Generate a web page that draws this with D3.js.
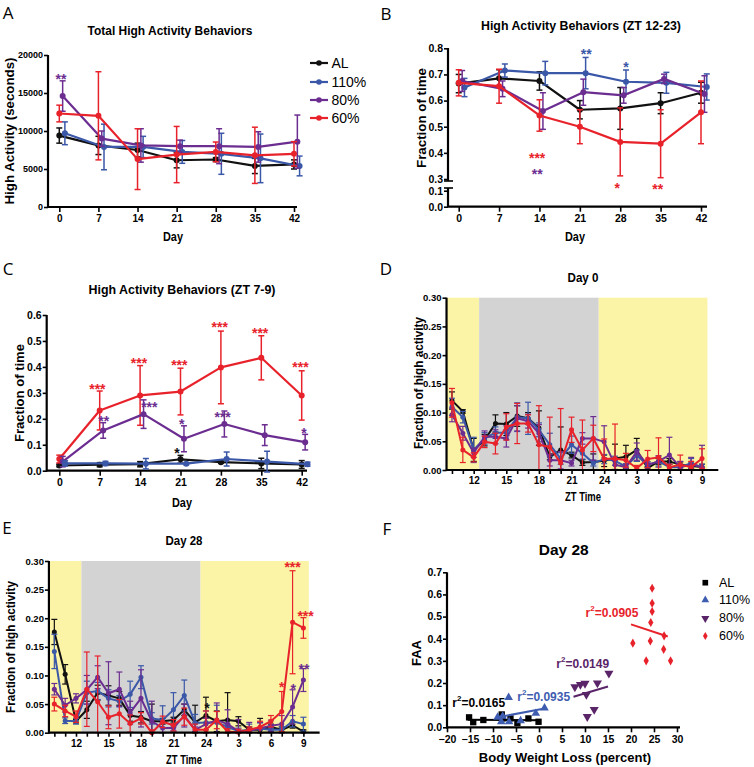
<!DOCTYPE html>
<html><head><meta charset="utf-8">
<script src="https://cdn.jsdelivr.net/npm/d3@7"></script>
<style>body{margin:0;background:#fff}svg{display:block}</style></head>
<body><svg id="c" width="754" height="767"></svg>
<script>
// ---------- DATA ----------
const groups = ["AL", "110%", "80%", "60%"];
const days = [0, 7, 14, 21, 28, 35, 42];

// Panel A: Total high activity (seconds)
const aAL  = [9400, 8100, 7500, 6150, 6250, 5400, 5600];
const a110 = [9700, 7900, 7900, 7250, 7000, 6400, 5400];
const a80  = [14600, 9000, 8100, 8000, 8000, 7900, 8600];
const a60  = [12300, 12000, 6300, 6900, 7250, 6800, 7000];
const aALerr  = [1000, 1200, 900, 1000, 250, 1000, 600];
const a110err = [1500, 3000, 1400, 1500, 2700, 3200, 1300];
const a80err  = [2000, 1000, 2200, 800, 2300, 2000, 3500];
const a60err  = [1100, 5800, 4000, 3700, 1300, 3700, 1600];
const aTicks = [0, 5000, 10000, 15000, 20000];

// Panel B: fraction of time ZT 12-23
const bAL  = [0.665, 0.685, 0.675, 0.565, 0.570, 0.590, 0.630];
const b110 = [0.650, 0.715, 0.705, 0.705, 0.672, 0.668, 0.652];
const b80  = [0.675, 0.645, 0.560, 0.632, 0.620, 0.683, 0.625];
const b60  = [0.668, 0.655, 0.543, 0.500, 0.442, 0.435, 0.555];
const bALerr  = [0.035, 0.033, 0.035, 0.035, 0.080, 0.040, 0.040];
const b110err = [0.035, 0.025, 0.045, 0.060, 0.045, 0.040, 0.050];
const b80err  = [0.040, 0.030, 0.070, 0.050, 0.030, 0.018, 0.070];
const b60err  = [0.050, 0.065, 0.060, 0.065, 0.130, 0.130, 0.120];
const bTicksUpper = [0.3, 0.4, 0.5, 0.6, 0.7, 0.8];
const bTicksLower = [0.0, 0.1];

// Panel C: fraction of time ZT 7-9
const cAL  = [0.020, 0.023, 0.025, 0.044, 0.033, 0.028, 0.024];
const c110 = [0.028, 0.028, 0.027, 0.027, 0.045, 0.035, 0.025];
const c80  = [0.035, 0.155, 0.218, 0.123, 0.180, 0.137, 0.110];
const c60  = [0.045, 0.232, 0.290, 0.305, 0.398, 0.435, 0.290];
const cALerr  = [0.005, 0.008, 0.010, 0.015, 0.004, 0.020, 0.015];
const c110err = [0.010, 0.008, 0.020, 0.004, 0.027, 0.040, 0.008];
const c80err  = [0.020, 0.030, 0.055, 0.050, 0.050, 0.040, 0.030];
const c60err  = [0.015, 0.075, 0.115, 0.090, 0.140, 0.085, 0.095];
const cTicks = [0, 0.1, 0.2, 0.3, 0.4, 0.5, 0.6];

// Panels D/E: hourly profile (ZT hours, 24 = next-day 0)
const hours = [10, 11, 12, 13, 14, 15, 16, 17, 18, 19, 20, 21, 22, 23, 24, 25, 26, 27, 28, 29, 30, 31, 32, 33];
const hourTicks = [12, 15, 18, 21, 24, 27, 30, 33];
const hourTickLabels = ["12", "15", "18", "21", "24", "3", "6", "9"];
const phases = [[9.5, 12.5, "light"], [12.5, 23.5, "dark"], [23.5, 33.5, "light"]];
const fracTicks = [0, 0.05, 0.10, 0.15, 0.20, 0.25, 0.30];

const dAL  = [0.121,0.102,0.035,0.052,0.081,0.080,0.094,0.090,0.073,0.023,0.035,0.026,0.013,0.014,0.016,0.020,0.023,0.035,0.003,0.015,0.015,0.009,0.007,0.005];
const d110 = [0.110,0.092,0.035,0.055,0.065,0.065,0.092,0.090,0.070,0.044,0.020,0.044,0.029,0.012,0.019,0.016,0.006,0.025,0.009,0.015,0.005,0.005,0.012,0.005];
const d80  = [0.096,0.064,0.030,0.058,0.058,0.055,0.090,0.085,0.064,0.017,0.017,0.012,0.055,0.055,0.049,0.009,0.005,0.032,0.009,0.015,0.026,0.005,0.009,0.005];
const d60  = [0.117,0.035,0.022,0.049,0.046,0.075,0.081,0.081,0.044,0.040,0.012,0.070,0.035,0.055,0.019,0.020,0.017,0.003,0.019,0.022,0.005,0.009,0.005,0.020];
const dALerr  = [0.015,0.003,0.020,0.010,0.015,0.020,0.018,0.010,0.030,0.005,0.040,0.005,0.005,0.014,0.010,0.025,0.020,0.020,0.003,0.005,0.005,0.005,0.005,0.005];
const d110err = [0.015,0.010,0.022,0.010,0.010,0.012,0.025,0.028,0.012,0.020,0.010,0.015,0.010,0.005,0.008,0.008,0.005,0.010,0.005,0.008,0.005,0.005,0.008,0.005];
const d80err  = [0.012,0.012,0.008,0.010,0.012,0.015,0.022,0.012,0.015,0.010,0.015,0.005,0.010,0.038,0.028,0.008,0.005,0.015,0.005,0.010,0.031,0.010,0.013,0.038];
const d60err  = [0.025,0.022,0.008,0.010,0.018,0.023,0.035,0.015,0.068,0.052,0.095,0.022,0.052,0.023,0.035,0.060,0.012,0.005,0.015,0.034,0.005,0.017,0.010,0.017];

const eAL  = [0.176,0.102,0.020,0.040,0.070,0.065,0.060,0.030,0.027,0.020,0.020,0.022,0.040,0.018,0.030,0.020,0.022,0.020,0.005,0.005,0.010,0.005,0.013,0.002];
const e110 = [0.142,0.021,0.020,0.070,0.073,0.060,0.055,0.067,0.097,0.025,0.022,0.040,0.065,0.017,0.018,0.018,0.010,0.003,0.005,0.007,0.005,0.005,0.020,0.015];
const e80  = [0.076,0.048,0.060,0.075,0.097,0.069,0.076,0.035,0.060,0.020,0.008,0.008,0.030,0.005,0.015,0.022,0.015,0.003,0.003,0.008,0.012,0.015,0.045,0.092];
const e60  = [0.050,0.038,0.028,0.076,0.054,0.027,0.033,0.016,0.025,0.000,0.019,0.013,0.028,0.005,0.005,0.022,0.002,0.001,0.005,0.010,0.020,0.037,0.193,0.183];
const eALerr  = [0.022,0.017,0.003,0.015,0.013,0.017,0.012,0.010,0.010,0.030,0.005,0.005,0.010,0.030,0.032,0.018,0.048,0.008,0.005,0.020,0.005,0.005,0.005,0.003];
const e110err = [0.030,0.005,0.005,0.020,0.015,0.015,0.010,0.023,0.020,0.010,0.025,0.030,0.027,0.015,0.020,0.030,0.005,0.005,0.010,0.010,0.005,0.005,0.010,0.012];
const e80err  = [0.010,0.012,0.008,0.025,0.020,0.055,0.030,0.020,0.050,0.035,0.010,0.005,0.020,0.005,0.010,0.030,0.025,0.020,0.015,0.010,0.010,0.015,0.030,0.020];
const e60err  = [0.012,0.010,0.010,0.065,0.080,0.020,0.025,0.015,0.010,0.005,0.010,0.010,0.015,0.010,0.033,0.015,0.005,0.005,0.005,0.010,0.010,0.035,0.090,0.018];

// Panel F: FAA vs body weight loss
const fALx  = [-15.2, -14.3, -12.1, -8.1, -7.9, -6.2, -4.7, -2.3, -0.1];
const fALy  = [0.045, 0.023, 0.033, 0.058, 0.040, 0.040, 0.020, 0.040, 0.025];
const f110x = [-9.0, -8.2, -7.9, -6.6, -6.5, -4.0, -0.7, 1.2];
const f110y = [0.045, 0.025, 0.050, 0.135, 0.025, 0.030, 0.063, 0.087];
const f80x  = [7.8, 9.0, 10.0, 10.3, 12.7, 15.2, 10.5, 12.0];
const f80y  = [0.182, 0.193, 0.198, 0.148, 0.200, 0.244, 0.048, 0.080];
const f60x  = [20.4, 23.3, 24.2, 24.3, 24.6, 24.6, 24.6, 27.2, 27.1, 28.6];
const f60y  = [0.380, 0.300, 0.390, 0.473, 0.523, 0.560, 0.628, 0.413, 0.352, 0.300];
const fFitX = [[-15.5, 0], [-9, 1.2], [7.5, 15], [20, 28]];
const fFitY = [[0.034, 0.032], [0.045, 0.085], [0.138, 0.184], [0.465, 0.410]];
const fR2   = ["0.0165", "0.0935", "0.0149", "0.0905"];
const fXTicks = [-20, -15, -10, -5, 0, 5, 10, 15, 20, 25, 30];
const fYTicks = [0, 0.1, 0.2, 0.3, 0.4, 0.5, 0.6, 0.7];

// significance marks: [x (day / hour), y value, text, group index]
const bStars = [[22.1, 0.795, "**", 1], [29.0, 0.745, "*", 1], [13.6, 0.397, "***", 3], [13.6, 0.336, "**", 2], [27.5, 0.280, "*", 3], [34.5, 0.277, "**", 3]];
const aStars = [[0.3, 17400, "**", 2]];
const cStars = [[6.6, 0.330, "***", 3], [13.8, 0.430, "***", 3], [20.8, 0.423, "***", 3], [27.8, 0.570, "***", 3], [34.8, 0.545, "***", 3], [41.8, 0.414, "***", 3],
                [7.7, 0.206, "**", 2], [15.6, 0.262, "***", 2], [21.2, 0.195, "*", 2], [28.3, 0.221, "***", 2], [42.4, 0.160, "*", 2], [20.4, 0.082, "*", 0]];
const eStars = [[31.0, 0.087, "*", 3], [32.05, 0.083, "*", 2], [32.0, 0.296, "***", 3], [33.2, 0.211, "***", 3], [33.05, 0.118, "**", 2], [24.1, 0.051, "*", 0]];

// ---------- STYLE ----------
const colors = ["#111111", "#3a57a8", "#6c2d91", "#e8222b"];
const fColors = ["#000000", "#3f5db0", "#5a2468", "#e8222b"];
const nudge = [0, 1.0, 0.6, 0];
const FONT = "'Liberation Sans', Arial, sans-serif";
const svg = d3.select("#c");

function txt(x, y, s, o = {}) {
  const t = svg.append("text").attr("x", x).attr("y", y).text(s)
    .attr("font-family", o.family || FONT).attr("font-size", o.size || 12)
    .attr("font-weight", o.weight || "bold").attr("text-anchor", o.anchor || "middle")
    .attr("dominant-baseline", o.base || "central").attr("fill", o.fill || "#000");
  if (o.len) t.attr("textLength", o.len).attr("lengthAdjust", "spacingAndGlyphs");
  if (o.rot) t.attr("transform", `rotate(-90,${x},${y})`);
  return t;
}
function styleAxis(g, fs) {
  g.selectAll("path.domain").remove();
  g.selectAll("line").attr("stroke", "#000").attr("stroke-width", 1.6);
  g.selectAll("text").attr("font-family", FONT).attr("font-weight", "bold")
    .attr("font-size", fs || 10).attr("fill", "#000");
}
function leftAxis(scale, x, ticks, fmt, y0, y1, fs) {
  const g = svg.append("g").attr("transform", `translate(${x},0)`)
    .call(d3.axisLeft(scale).tickValues(ticks).tickFormat(fmt).tickSize(4).tickPadding(1));
  styleAxis(g, fs);
  svg.append("line").attr("x1", x).attr("x2", x).attr("y1", y0).attr("y2", y1)
    .attr("stroke", "#000").attr("stroke-width", 2.2);
}
function bottomAxis(scale, y, ticks, fmt, x0, x1, fs, tl) {
  const g = svg.append("g").attr("transform", `translate(0,${y})`)
    .call(d3.axisBottom(scale).tickValues(ticks).tickFormat(fmt).tickSize(tl || 5).tickPadding(3));
  styleAxis(g, fs);
  svg.append("line").attr("x1", x0).attr("x2", x1).attr("y1", y).attr("y2", y)
    .attr("stroke", "#000").attr("stroke-width", 2.2);
  return g;
}
function series(xs, ys, xv, vals, errs, i, o) {
  const col = colors[i];
  const pts = xv.map((d, j) => ({
    x: xs(d + (o.nudge ? nudge[i] : 0)), y: ys(vals[j]),
    hi: ys(vals[j] + errs[j]), lo: ys(Math.max(o.floor != null ? o.floor : -1e9, vals[j] - errs[j]))
  }));
  const g = svg.append("g");
  const cap = o.cap || 3;
  pts.forEach(p => {
    g.append("line").attr("x1", p.x).attr("x2", p.x).attr("y1", p.lo).attr("y2", p.hi).attr("stroke", col).attr("stroke-width", o.ew || 1.5);
    [p.lo, p.hi].forEach(yy => g.append("line").attr("x1", p.x - cap).attr("x2", p.x + cap).attr("y1", yy).attr("y2", yy).attr("stroke", col).attr("stroke-width", o.ew || 1.5));
  });
  g.append("path").attr("d", d3.line().x(p => p.x).y(p => p.y)(pts))
    .attr("fill", "none").attr("stroke", col).attr("stroke-width", o.lw || 2.2).attr("stroke-linejoin", "round");
  g.selectAll("circle").data(pts).join("circle").attr("cx", p => p.x).attr("cy", p => p.y)
    .attr("r", o.r || 3).attr("fill", col);
}
function stars(list, xs, ys) {
  list.forEach(s => txt(xs(s[0]), ys(s[1]) + 4, s[2], { size: 14, fill: colors[s[3]], weight: "bold" }));
}
const letter = (x, y, s) => txt(x, y, s, { family: "'Open Sans', sans-serif", weight: "normal", size: 17 });

// ---------- PANEL A ----------
{
  const xs = d3.scaleLinear([0, 42], [59.3, 294]);
  const ys = d3.scaleLinear([0, 20000], [207, 55]);
  letter(8, 12, "A");
  txt(170, 30, "Total High Activity Behaviors", { size: 13, len: 165 });
  leftAxis(ys, 48, aTicks, d3.format("d"), 55, 208, 9);
  bottomAxis(xs, 207, days, d3.format("d"), 47, 297, 10);
  txt(9.5, 131, "High Activity (seconds)", { size: 12.5, rot: true, len: 147 });
  txt(173, 237, "Day", { size: 12.5, len: 20 });
  const vals = [aAL, a110, a80, a60], errs = [aALerr, a110err, a80err, a60err];
  vals.forEach((v, i) => series(xs, ys, days, v, errs[i], i, { nudge: true }));
  stars(aStars, xs, ys);
  // legend
  groups.forEach((gname, i) => {
    const y = [63, 82, 100, 118][i];
    svg.append("line").attr("x1", 310).attr("x2", 328).attr("y1", y).attr("y2", y).attr("stroke", colors[i]).attr("stroke-width", 2.2);
    svg.append("circle").attr("cx", 319).attr("cy", y).attr("r", 2.8).attr("fill", colors[i]);
    txt(331.5, y, gname, { size: 14, weight: "normal", anchor: "start" });
  });
}

// ---------- PANEL B ----------
{
  const xs = d3.scaleLinear([0, 42], [458.7, 701]);
  const ysU = d3.scaleLinear([0.3, 0.8], [179, 48.3]);
  const ysL = d3.scaleLinear([0, 0.1], [206.7, 190.7]);
  letter(386, 13, "B");
  txt(581, 25, "High Activity Behaviors (ZT 12-23)", { size: 13, len: 200 });
  leftAxis(ysU, 448, bTicksUpper, d3.format(".1f"), 48, 181, 10.5);
  leftAxis(ysL, 448, bTicksLower, d3.format(".1f"), 188, 207, 10.5);
  [181, 188].forEach(y => svg.append("line").attr("x1", 444).attr("x2", 453).attr("y1", y).attr("y2", y).attr("stroke", "#000").attr("stroke-width", 1.6));
  bottomAxis(xs, 206.7, days, d3.format("d"), 447, 707, 10.5);
  txt(422, 118, "Fraction of time", { size: 12.5, rot: true, len: 100 });
  txt(575, 237, "Day", { size: 12.5, len: 20 });
  const vals = [bAL, b110, b80, b60], errs = [bALerr, b110err, b80err, b60err];
  vals.forEach((v, i) => series(xs, ysU, days, v, errs[i], i, { nudge: true }));
  stars(bStars, xs, ysU);
}

// ---------- PANEL C ----------
{
  const xs = d3.scaleLinear([0, 42], [59.3, 301.7]);
  const ys = d3.scaleLinear([0, 0.6], [470.7, 315]);
  letter(8, 268, "C");
  txt(182, 289, "High Activity Behaviors (ZT 7-9)", { size: 13, len: 187 });
  leftAxis(ys, 46.7, cTicks, d3.format(".1f"), 315, 471.5, 10.5);
  bottomAxis(xs, 470.7, days, d3.format("d"), 46, 307, 10.5);
  txt(20, 393, "Fraction of time", { size: 12.5, rot: true, len: 98 });
  txt(182, 503, "Day", { size: 12.5, len: 20 });
  const vals = [cAL, c110, c80, c60], errs = [cALerr, c110err, c80err, c60err];
  const order = [0, 3, 2, 1];
  order.forEach(i => series(xs, ys, days, vals[i], errs[i], i, { nudge: true }));
  stars(cStars, xs, ys);
}

// ---------- HOURLY PANELS ----------
function hourPanel(cfg) {
  const xs = d3.scaleLinear([12, 33], cfg.xr);
  const ys = d3.scaleLinear([0, 0.3], cfg.yr);
  phases.forEach(p => svg.append("rect").attr("x", xs(p[0])).attr("width", xs(p[1]) - xs(p[0]))
    .attr("y", cfg.yr[1]).attr("height", cfg.yr[0] - cfg.yr[1])
    .attr("fill", p[2] === "light" ? "#fbf3a6" : "#d3d3d3"));
  letter(cfg.lx, cfg.ly, cfg.letter);
  txt(cfg.tx, cfg.ty, cfg.title, { size: 13, len: cfg.tlen });
  const vals = cfg.vals, errs = cfg.errs;
  vals.forEach((v, i) => series(xs, ys, hours, v, errs[i], i, { floor: 0, r: 2.5, lw: 2, ew: 1.2, cap: 3 }));
  leftAxis(ys, xs(9.5), fracTicks, d3.format(".2f"), cfg.yr[1], cfg.yr[0] + 1, 9.5);
  bottomAxis(xs, cfg.yr[0], hours, (d) => { const k = hourTicks.indexOf(d); return k >= 0 ? hourTickLabels[k] : ""; }, xs(9.5), xs(34.5), 10, 4);
  txt(cfg.ylx, cfg.yly, "Fraction of high activity", { size: 12.5, rot: true, len: 132 });
  txt(cfg.xlx, cfg.xly, "ZT Time", { size: 12.5, len: 36 });
  return [xs, ys];
}
hourPanel({ xr: [473.7, 702], yr: [470, 297.7], letter: "D", lx: 386, ly: 268, title: "Day 0", tx: 583, ty: 277, tlen: 31,
  vals: [dAL, d110, d80, d60], errs: [dALerr, d110err, d80err, d60err], ylx: 418.7, yly: 383, xlx: 583, xly: 497 });
{
  const [xs, ys] = hourPanel({ xr: [76, 303.4], yr: [732.7, 561], letter: "E", lx: 7, ly: 527, title: "Day 28", tx: 184, ty: 540, tlen: 37,
    vals: [eAL, e110, e80, e60], errs: [eALerr, e110err, e80err, e60err], ylx: 11, yly: 647, xlx: 184, xly: 760 });
  stars(eStars, xs, ys);
}

// ---------- PANEL F ----------
{
  const xs = d3.scaleLinear([-20, 30], [447, 677]);
  const ys = d3.scaleLinear([0, 0.7], [727.3, 572.3]);
  letter(387, 528, "F");
  txt(563.7, 549.3, "Day 28", { size: 15.5 });
  leftAxis(ys, 447, fYTicks, d3.format(".1f"), 572.3, 728.3, 10.5);
  bottomAxis(xs, 727.3, fXTicks, d3.format("d"), 446, 680, 10.5, 5);
  txt(416, 653, "FAA", { size: 13, rot: true });
  txt(565, 757, "Body Weight Loss (percent)", { size: 13 });
  const X = [fALx, f110x, f80x, f60x], Y = [fALy, f110y, f80y, f60y];
  const sym = [d3.symbolSquare, d3.symbolTriangle, d3.symbolTriangle, d3.symbolDiamond];
  const size = [40, 32, 36, 24];
  const rot = [0, 0, 180, 0];
  X.forEach((xv, i) => {
    svg.append("g").selectAll("path").data(xv.map((x, j) => [x, Y[i][j]])).join("path")
      .attr("d", d3.symbol(sym[i], size[i]))
      .attr("transform", d => `translate(${xs(d[0])},${ys(d[1])}) rotate(${rot[i]})`)
      .attr("fill", fColors[i]);
    svg.append("line").attr("x1", xs(fFitX[i][0])).attr("x2", xs(fFitX[i][1]))
      .attr("y1", ys(fFitY[i][0])).attr("y2", ys(fFitY[i][1])).attr("stroke", fColors[i]).attr("stroke-width", 2);
  });
  const r2pos = [[478.7, 703.3], [543.7, 696.7], [582.7, 664], [612, 612.7]];
  r2pos.forEach((p, i) => {
    const t = txt(p[0], p[1], "", { size: 12, fill: fColors[i] });
    t.append("tspan").text("r");
    t.append("tspan").text("2").attr("font-size", 8).attr("dy", -5);
    t.append("tspan").text("=" + fR2[i]).attr("dy", 5);
  });
  // legend
  groups.forEach((gname, i) => {
    const y = [582.7, 600, 618.3, 636][i];
    svg.append("path").attr("d", d3.symbol(sym[i], size[i] * 0.8)).attr("transform", `translate(705.3,${y}) rotate(${rot[i]})`).attr("fill", fColors[i]);
    txt(719, y, gname, { size: 12.5, weight: "normal", anchor: "start" });
  });
}
</script></body></html>
